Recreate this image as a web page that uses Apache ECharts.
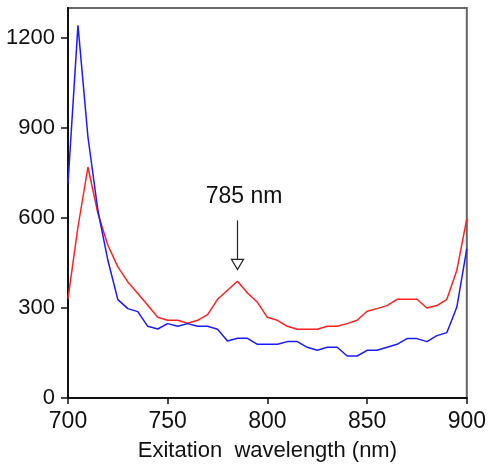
<!DOCTYPE html>
<html>
<head>
<meta charset="utf-8">
<script src="https://cdn.jsdelivr.net/npm/echarts@6/dist/echarts.min.js"></script>
<style>html,body{margin:0;padding:0;background:#fff;}#c{width:489px;height:467px;}</style>
</head>
<body>
<div id="c"></div>
<script>
var wavelengths = [700,705,710,715,720,725,730,735,740,745,750,755,760,765,770,775,780,785,790,795,800,805,810,815,820,825,830,835,840,845,850,855,860,865,870,875,880,885,890,895,900];
var blueValues = [716,1242,870,625,459,328,298,288,239,230,248,239,248,239,239,229,190,199,199,179,179,179,188,188,169,159,169,169,140,140,159,159,169,179,198,198,188,208,218,303,498];
var redValues = [331,570,770,615,509,437,387,348,309,269,259,259,249,259,278,329,359,389,350,319,269,259,239,229,229,229,239,239,248,259,289,298,308,329,329,329,300,308,329,426,598];
var xTicks = [700,750,800,850,900];
var yTicks = [0,300,600,900,1200];
var annotationText = '785 nm';
var annotationX = 785;
var xAxisTitle = 'Exitation  wavelength (nm)';

function pairs(xs, ys){ return xs.map(function(x,i){ return [x, ys[i]]; }); }

var font = '"Liberation Sans", Arial, sans-serif';
var chart = echarts.init(document.getElementById('c'), null, {renderer:'canvas'});
chart.setOption({
  animation: false,
  backgroundColor: '#fff',
  grid: {left: 68, top: 8, right: 17, bottom: 69, show: true, borderColor: '#666', borderWidth: 2, backgroundColor: 'transparent'},
  xAxis: {
    type: 'value', min: 700, max: 900, interval: 50,
    name: xAxisTitle, nameLocation: 'middle', nameGap: 42,
    nameTextStyle: {fontFamily: font, fontSize: 22, color: '#111'},
    axisLine: {show: true, onZero: false, lineStyle: {color: '#111', width: 2}},
    axisTick: {show: true, inside: false, length: 6, lineStyle: {color: '#111', width: 1.5}, customValues: xTicks},
    axisLabel: {fontFamily: font, fontSize: 23, color: '#111', margin: 12, customValues: xTicks, formatter: function(v){ return String(v); }},
    splitLine: {show: false}
  },
  yAxis: {
    type: 'value', min: 0, max: 1300, interval: 300,
    axisLine: {show: true, lineStyle: {color: '#111', width: 2}},
    axisTick: {show: true, inside: false, length: 7, lineStyle: {color: '#111', width: 1.5}, customValues: yTicks},
    axisLabel: {fontFamily: font, fontSize: 22, color: '#111', margin: 13, customValues: yTicks, formatter: function(v){ return String(v); }},
    splitLine: {show: false}
  },
  series: [
    {type: 'line', data: pairs(wavelengths, redValues), showSymbol: false, lineStyle: {color: '#ff2020', width: 1.5}, itemStyle: {color: '#ff2020'}, z: 2},
    {type: 'line', data: pairs(wavelengths, blueValues), showSymbol: false, lineStyle: {color: '#1a1aff', width: 1.5}, itemStyle: {color: '#1a1aff'}, z: 3}
  ]
});

var pTop = chart.convertToPixel({gridIndex:0}, [annotationX, 592]);
var pBase = chart.convertToPixel({gridIndex:0}, [annotationX, 462]);
var pTip = chart.convertToPixel({gridIndex:0}, [annotationX, 428]);
var pTxt = chart.convertToPixel({gridIndex:0}, [788.3, 672]);
chart.setOption({
  graphic: [
    {type: 'line', shape: {x1: pTop[0], y1: pTop[1], x2: pBase[0], y2: pBase[1]}, style: {stroke: '#222', lineWidth: 1.2}},
    {type: 'polygon', shape: {points: [[pBase[0]-6, pBase[1]], [pBase[0]+6, pBase[1]], [pTip[0], pTip[1]]]}, style: {fill: '#fff', stroke: '#222', lineWidth: 1.2}},
    {type: 'text', x: pTxt[0], y: pTxt[1], style: {text: annotationText, font: '23px ' + font, fill: '#111', align: 'center', verticalAlign: 'middle'}}
  ]
});
</script>
</body>
</html>
